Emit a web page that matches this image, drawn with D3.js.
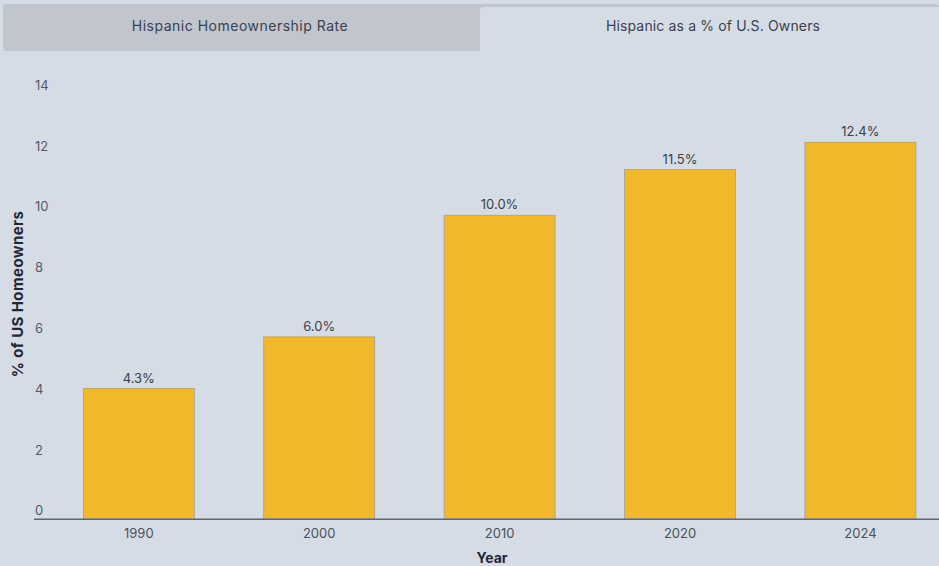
<!DOCTYPE html>
<html>
<head>
<meta charset="utf-8">
<script src="https://cdn.jsdelivr.net/npm/d3@7"></script>
<style>
  html, body { margin: 0; padding: 0; background: #d6dce5; }
  svg { display: block; font-family: Inter, "Open Sans", sans-serif; }
</style>
</head>
<body>
<svg id="chart" width="939" height="566"></svg>
<script>
// Hispanic share of all U.S. homeowners, by year
const years = ["1990", "2000", "2010", "2020", "2024"];
const shares = [4.3, 6.0, 10.0, 11.5, 12.4];
const yTicks = [0, 2, 4, 6, 8, 10, 12, 14];
const tabLabels = ["Hispanic Homeownership Rate", "Hispanic as a % of U.S. Owners"];

const svg = d3.select("#chart");
const W = 939, H = 566;

svg.append("rect").attr("width", W).attr("height", H).attr("fill", "#d6dce5");

// Tab bar
const tabs = svg.append("g");
tabs.append("rect").attr("x", 3).attr("y", 4).attr("width", W - 3).attr("height", 47)
  .attr("rx", 3).attr("fill", "#c1c5cd");
tabs.append("path")
  .attr("d", "M480,51 L480,11 Q480,7 484,7 L939,7 L939,51 Z")
  .attr("fill", "#d6dce5");
const tabCenters = [240, 713];
const tabSpacing = [0.5, 0.15];
tabs.selectAll("text.tab").data(tabLabels).join("text")
  .attr("class", "tab")
  .attr("x", (d, i) => tabCenters[i])
  .attr("y", 31)
  .attr("text-anchor", "middle")
  .attr("font-size", 14)
  .attr("letter-spacing", (d, i) => tabSpacing[i])
  .attr("fill", "#3a4150")
  .text(d => d);

// Scales
const x = d3.scaleBand().domain(years)
  .range([48.6, 950.6]).paddingInner(0.385).paddingOuter(0.1925);
const y = d3.scaleLinear().domain([0, 14]).range([519.3, 93.7]);

// Y tick labels (sit just above their value)
svg.append("g").selectAll("text").data(yTicks).join("text")
  .attr("x", 35)
  .attr("y", d => y(d) - 4)
  .attr("font-size", 13)
  .attr("fill", "#555b66")
  .text(d => d);

// Bars
svg.append("g").selectAll("rect").data(shares).join("rect")
  .attr("x", (d, i) => x(years[i]))
  .attr("y", d => y(d))
  .attr("width", x.bandwidth())
  .attr("height", d => y(0) - y(d))
  .attr("fill", "#f0b82a")
  .attr("stroke", "#a0a09a")
  .attr("stroke-width", 0.8);

// Value labels
svg.append("g").selectAll("text").data(shares).join("text")
  .attr("x", (d, i) => x(years[i]) + x.bandwidth() / 2)
  .attr("y", d => y(d) - 6)
  .attr("text-anchor", "middle")
  .attr("font-size", 13)
  .attr("fill", "#3a3f48")
  .text(d => d.toFixed(1) + "%");

// X axis
const xAxis = svg.append("g").attr("transform", `translate(0,${y(0)})`)
  .call(d3.axisBottom(x).tickSize(0).tickPadding(9));
xAxis.select(".domain").attr("d", `M34,0H${W}`).attr("stroke", "#5f6672").attr("stroke-width", 1.5);
xAxis.selectAll("text").attr("font-size", 13).attr("fill", "#4a505c")
  .attr("font-family", "Inter, 'Open Sans', sans-serif");

// Axis titles
svg.append("text")
  .attr("transform", "translate(23,294) rotate(-90)")
  .attr("text-anchor", "middle")
  .attr("font-size", 15)
  .attr("letter-spacing", 0.4)
  .attr("font-weight", 700)
  .attr("fill", "#1f2838")
  .text("% of US Homeowners");

svg.append("text")
  .attr("x", 492)
  .attr("y", 563)
  .attr("text-anchor", "middle")
  .attr("font-size", 14)
  .attr("font-weight", 700)
  .attr("fill", "#1f2838")
  .text("Year");
</script>
</body>
</html>
